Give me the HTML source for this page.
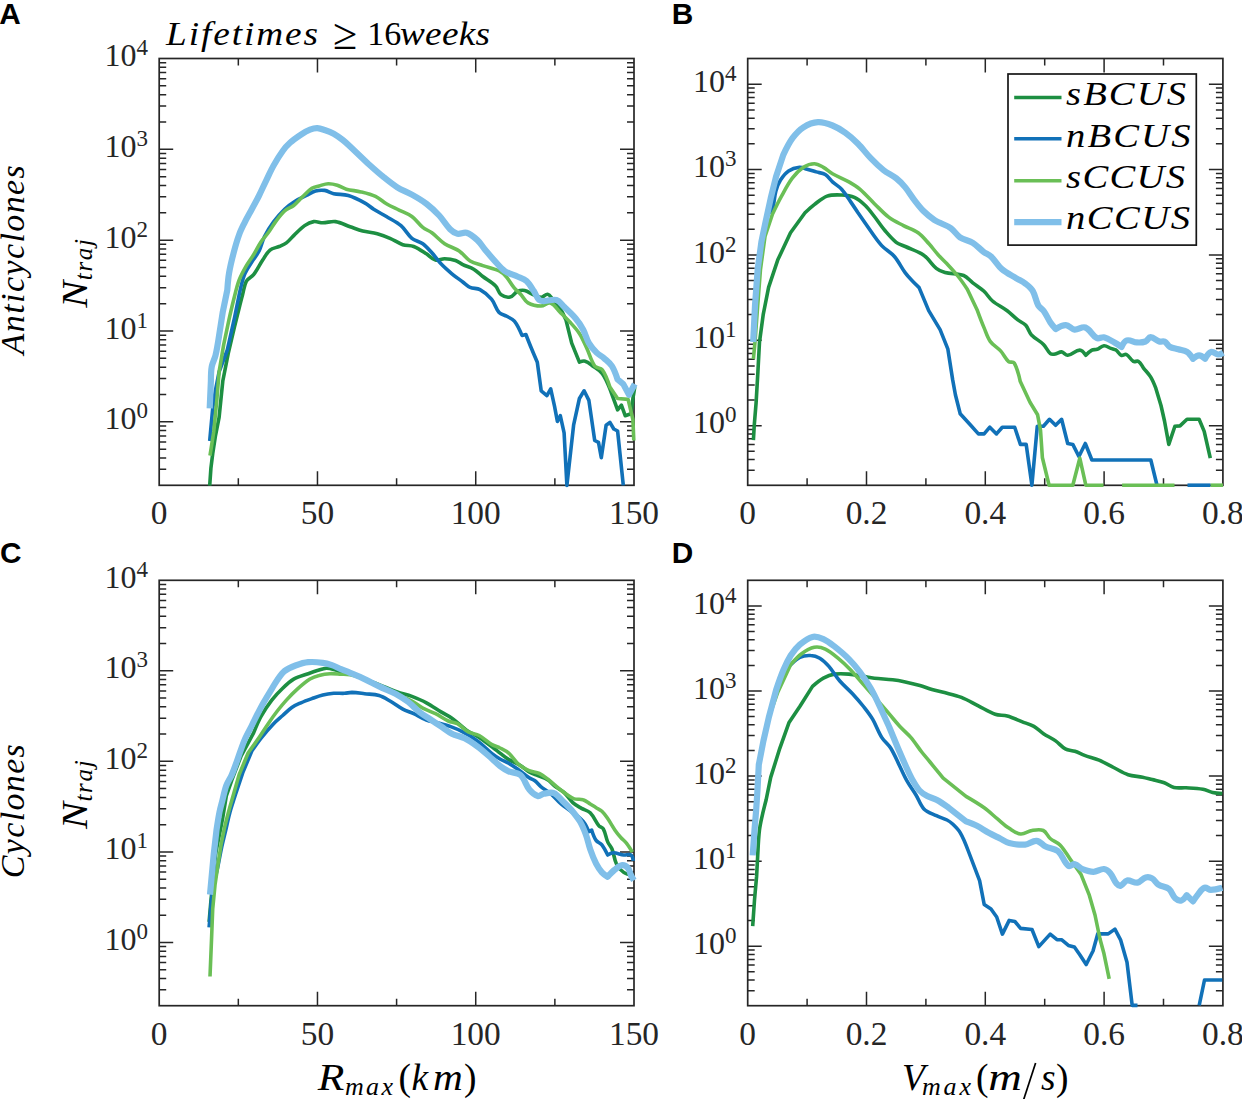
<!DOCTYPE html><html><head><meta charset="utf-8"><style>
html,body{margin:0;padding:0;background:#fff;width:1242px;height:1099px;overflow:hidden}
svg{display:block}
.tk{font-family:"Liberation Serif",serif;font-size:33.4px;fill:#262626}
.ty{font-family:"Liberation Serif",serif;font-size:32px;fill:#262626}
.ts{font-family:"Liberation Serif",serif;font-size:23px;fill:#262626}
.it{font-family:"Liberation Serif",serif;font-style:italic;fill:#000}
.rm{font-family:"Liberation Serif",serif;fill:#000}
.pl{font-family:"Liberation Sans",sans-serif;font-weight:bold;font-size:29.8px;fill:#000}
</style></head><body>
<svg width="1242" height="1099" viewBox="0 0 1242 1099">
<rect width="1242" height="1099" fill="#fff"/>
<path d="M317.47 485.30L317.47 471.30M317.47 58.50L317.47 72.50M475.73 485.30L475.73 471.30M475.73 58.50L475.73 72.50M238.33 485.30L238.33 478.30M238.33 58.50L238.33 65.50M396.60 485.30L396.60 478.30M396.60 58.50L396.60 65.50M554.87 485.30L554.87 478.30M554.87 58.50L554.87 65.50M159.20 469.31L166.20 469.31M634.00 469.31L627.00 469.31M159.20 457.96L166.20 457.96M634.00 457.96L627.00 457.96M159.20 449.16L166.20 449.16M634.00 449.16L627.00 449.16M159.20 441.96L166.20 441.96M634.00 441.96L627.00 441.96M159.20 435.88L166.20 435.88M634.00 435.88L627.00 435.88M159.20 430.62L166.20 430.62M634.00 430.62L627.00 430.62M159.20 425.97L166.20 425.97M634.00 425.97L627.00 425.97M159.20 421.81L173.20 421.81M634.00 421.81L620.00 421.81M159.20 394.47L166.20 394.47M634.00 394.47L627.00 394.47M159.20 378.48L166.20 378.48M634.00 378.48L627.00 378.48M159.20 367.13L166.20 367.13M634.00 367.13L627.00 367.13M159.20 358.33L166.20 358.33M634.00 358.33L627.00 358.33M159.20 351.14L166.20 351.14M634.00 351.14L627.00 351.14M159.20 345.05L166.20 345.05M634.00 345.05L627.00 345.05M159.20 339.79L166.20 339.79M634.00 339.79L627.00 339.79M159.20 335.14L166.20 335.14M634.00 335.14L627.00 335.14M159.20 330.99L173.20 330.99M634.00 330.99L620.00 330.99M159.20 303.64L166.20 303.64M634.00 303.64L627.00 303.64M159.20 287.65L166.20 287.65M634.00 287.65L627.00 287.65M159.20 276.30L166.20 276.30M634.00 276.30L627.00 276.30M159.20 267.50L166.20 267.50M634.00 267.50L627.00 267.50M159.20 260.31L166.20 260.31M634.00 260.31L627.00 260.31M159.20 254.23L166.20 254.23M634.00 254.23L627.00 254.23M159.20 248.96L166.20 248.96M634.00 248.96L627.00 248.96M159.20 244.31L166.20 244.31M634.00 244.31L627.00 244.31M159.20 240.16L173.20 240.16M634.00 240.16L620.00 240.16M159.20 212.81L166.20 212.81M634.00 212.81L627.00 212.81M159.20 196.82L166.20 196.82M634.00 196.82L627.00 196.82M159.20 185.47L166.20 185.47M634.00 185.47L627.00 185.47M159.20 176.67L166.20 176.67M634.00 176.67L627.00 176.67M159.20 169.48L166.20 169.48M634.00 169.48L627.00 169.48M159.20 163.40L166.20 163.40M634.00 163.40L627.00 163.40M159.20 158.13L166.20 158.13M634.00 158.13L627.00 158.13M159.20 153.48L166.20 153.48M634.00 153.48L627.00 153.48M159.20 149.33L173.20 149.33M634.00 149.33L620.00 149.33M159.20 121.99L166.20 121.99M634.00 121.99L627.00 121.99M159.20 105.99L166.20 105.99M634.00 105.99L627.00 105.99M159.20 94.64L166.20 94.64M634.00 94.64L627.00 94.64M159.20 85.84L166.20 85.84M634.00 85.84L627.00 85.84M159.20 78.65L166.20 78.65M634.00 78.65L627.00 78.65M159.20 72.57L166.20 72.57M634.00 72.57L627.00 72.57M159.20 67.30L166.20 67.30M634.00 67.30L627.00 67.30M159.20 62.66L166.20 62.66M634.00 62.66L627.00 62.66" stroke="#262626" stroke-width="1.50" fill="none"/>
<rect x="159.20" y="58.50" width="474.80" height="426.80" fill="none" stroke="#262626" stroke-width="1.7"/>
<text x="159.20" y="523.90" text-anchor="middle" class="tk">0</text>
<text x="317.47" y="523.90" text-anchor="middle" class="tk">50</text>
<text x="475.73" y="523.90" text-anchor="middle" class="tk">100</text>
<text x="634.00" y="523.90" text-anchor="middle" class="tk">150</text>
<text x="104.50" y="429.41" class="ty">10</text>
<text x="136.50" y="418.41" class="ts">0</text>
<text x="104.50" y="338.59" class="ty">10</text>
<text x="136.50" y="327.59" class="ts">1</text>
<text x="104.50" y="247.76" class="ty">10</text>
<text x="136.50" y="236.76" class="ts">2</text>
<text x="104.50" y="156.93" class="ty">10</text>
<text x="136.50" y="145.93" class="ts">3</text>
<text x="104.50" y="66.10" class="ty">10</text>
<text x="136.50" y="55.10" class="ts">4</text>
<path d="M866.50 485.30L866.50 471.30M866.50 58.50L866.50 72.50M985.30 485.30L985.30 471.30M985.30 58.50L985.30 72.50M1104.10 485.30L1104.10 471.30M1104.10 58.50L1104.10 72.50M807.10 485.30L807.10 478.30M807.10 58.50L807.10 65.50M925.90 485.30L925.90 478.30M925.90 58.50L925.90 65.50M1044.70 485.30L1044.70 478.30M1044.70 58.50L1044.70 65.50M1163.50 485.30L1163.50 478.30M1163.50 58.50L1163.50 65.50M747.70 470.27L754.70 470.27M1222.90 470.27L1215.90 470.27M747.70 459.60L754.70 459.60M1222.90 459.60L1215.90 459.60M747.70 451.33L754.70 451.33M1222.90 451.33L1215.90 451.33M747.70 444.57L754.70 444.57M1222.90 444.57L1215.90 444.57M747.70 438.86L754.70 438.86M1222.90 438.86L1215.90 438.86M747.70 433.91L754.70 433.91M1222.90 433.91L1215.90 433.91M747.70 429.54L754.70 429.54M1222.90 429.54L1215.90 429.54M747.70 425.64L761.70 425.64M1222.90 425.64L1208.90 425.64M747.70 399.94L754.70 399.94M1222.90 399.94L1215.90 399.94M747.70 384.91L754.70 384.91M1222.90 384.91L1215.90 384.91M747.70 374.24L754.70 374.24M1222.90 374.24L1215.90 374.24M747.70 365.97L754.70 365.97M1222.90 365.97L1215.90 365.97M747.70 359.21L754.70 359.21M1222.90 359.21L1215.90 359.21M747.70 353.50L754.70 353.50M1222.90 353.50L1215.90 353.50M747.70 348.55L754.70 348.55M1222.90 348.55L1215.90 348.55M747.70 344.18L754.70 344.18M1222.90 344.18L1215.90 344.18M747.70 340.28L761.70 340.28M1222.90 340.28L1208.90 340.28M747.70 314.58L754.70 314.58M1222.90 314.58L1215.90 314.58M747.70 299.55L754.70 299.55M1222.90 299.55L1215.90 299.55M747.70 288.88L754.70 288.88M1222.90 288.88L1215.90 288.88M747.70 280.61L754.70 280.61M1222.90 280.61L1215.90 280.61M747.70 273.85L754.70 273.85M1222.90 273.85L1215.90 273.85M747.70 268.14L754.70 268.14M1222.90 268.14L1215.90 268.14M747.70 263.19L754.70 263.19M1222.90 263.19L1215.90 263.19M747.70 258.82L754.70 258.82M1222.90 258.82L1215.90 258.82M747.70 254.92L761.70 254.92M1222.90 254.92L1208.90 254.92M747.70 229.22L754.70 229.22M1222.90 229.22L1215.90 229.22M747.70 214.19L754.70 214.19M1222.90 214.19L1215.90 214.19M747.70 203.52L754.70 203.52M1222.90 203.52L1215.90 203.52M747.70 195.25L754.70 195.25M1222.90 195.25L1215.90 195.25M747.70 188.49L754.70 188.49M1222.90 188.49L1215.90 188.49M747.70 182.78L754.70 182.78M1222.90 182.78L1215.90 182.78M747.70 177.83L754.70 177.83M1222.90 177.83L1215.90 177.83M747.70 173.46L754.70 173.46M1222.90 173.46L1215.90 173.46M747.70 169.56L761.70 169.56M1222.90 169.56L1208.90 169.56M747.70 143.86L754.70 143.86M1222.90 143.86L1215.90 143.86M747.70 128.83L754.70 128.83M1222.90 128.83L1215.90 128.83M747.70 118.16L754.70 118.16M1222.90 118.16L1215.90 118.16M747.70 109.89L754.70 109.89M1222.90 109.89L1215.90 109.89M747.70 103.13L754.70 103.13M1222.90 103.13L1215.90 103.13M747.70 97.42L754.70 97.42M1222.90 97.42L1215.90 97.42M747.70 92.47L754.70 92.47M1222.90 92.47L1215.90 92.47M747.70 88.10L754.70 88.10M1222.90 88.10L1215.90 88.10M747.70 84.20L761.70 84.20M1222.90 84.20L1208.90 84.20" stroke="#262626" stroke-width="1.50" fill="none"/>
<rect x="747.70" y="58.50" width="475.20" height="426.80" fill="none" stroke="#262626" stroke-width="1.7"/>
<text x="747.70" y="523.90" text-anchor="middle" class="tk">0</text>
<text x="866.50" y="523.90" text-anchor="middle" class="tk">0.2</text>
<text x="985.30" y="523.90" text-anchor="middle" class="tk">0.4</text>
<text x="1104.10" y="523.90" text-anchor="middle" class="tk">0.6</text>
<text x="1222.90" y="523.90" text-anchor="middle" class="tk">0.8</text>
<text x="693.00" y="433.24" class="ty">10</text>
<text x="725.00" y="422.24" class="ts">0</text>
<text x="693.00" y="347.88" class="ty">10</text>
<text x="725.00" y="336.88" class="ts">1</text>
<text x="693.00" y="262.52" class="ty">10</text>
<text x="725.00" y="251.52" class="ts">2</text>
<text x="693.00" y="177.16" class="ty">10</text>
<text x="725.00" y="166.16" class="ts">3</text>
<text x="693.00" y="91.80" class="ty">10</text>
<text x="725.00" y="80.80" class="ts">4</text>
<path d="M317.47 1005.70L317.47 991.70M317.47 580.30L317.47 594.30M475.73 1005.70L475.73 991.70M475.73 580.30L475.73 594.30M238.33 1005.70L238.33 998.70M238.33 580.30L238.33 587.30M396.60 1005.70L396.60 998.70M396.60 580.30L396.60 587.30M554.87 1005.70L554.87 998.70M554.87 580.30L554.87 587.30M159.20 989.76L166.20 989.76M634.00 989.76L627.00 989.76M159.20 978.45L166.20 978.45M634.00 978.45L627.00 978.45M159.20 969.67L166.20 969.67M634.00 969.67L627.00 969.67M159.20 962.51L166.20 962.51M634.00 962.51L627.00 962.51M159.20 956.45L166.20 956.45M634.00 956.45L627.00 956.45M159.20 951.20L166.20 951.20M634.00 951.20L627.00 951.20M159.20 946.56L166.20 946.56M634.00 946.56L627.00 946.56M159.20 942.42L173.20 942.42M634.00 942.42L620.00 942.42M159.20 915.17L166.20 915.17M634.00 915.17L627.00 915.17M159.20 899.23L166.20 899.23M634.00 899.23L627.00 899.23M159.20 887.92L166.20 887.92M634.00 887.92L627.00 887.92M159.20 879.14L166.20 879.14M634.00 879.14L627.00 879.14M159.20 871.98L166.20 871.98M634.00 871.98L627.00 871.98M159.20 865.91L166.20 865.91M634.00 865.91L627.00 865.91M159.20 860.66L166.20 860.66M634.00 860.66L627.00 860.66M159.20 856.03L166.20 856.03M634.00 856.03L627.00 856.03M159.20 851.89L173.20 851.89M634.00 851.89L620.00 851.89M159.20 824.64L166.20 824.64M634.00 824.64L627.00 824.64M159.20 808.70L166.20 808.70M634.00 808.70L627.00 808.70M159.20 797.39L166.20 797.39M634.00 797.39L627.00 797.39M159.20 788.61L166.20 788.61M634.00 788.61L627.00 788.61M159.20 781.45L166.20 781.45M634.00 781.45L627.00 781.45M159.20 775.38L166.20 775.38M634.00 775.38L627.00 775.38M159.20 770.13L166.20 770.13M634.00 770.13L627.00 770.13M159.20 765.50L166.20 765.50M634.00 765.50L627.00 765.50M159.20 761.36L173.20 761.36M634.00 761.36L620.00 761.36M159.20 734.11L166.20 734.11M634.00 734.11L627.00 734.11M159.20 718.17L166.20 718.17M634.00 718.17L627.00 718.17M159.20 706.86L166.20 706.86M634.00 706.86L627.00 706.86M159.20 698.08L166.20 698.08M634.00 698.08L627.00 698.08M159.20 690.91L166.20 690.91M634.00 690.91L627.00 690.91M159.20 684.85L166.20 684.85M634.00 684.85L627.00 684.85M159.20 679.60L166.20 679.60M634.00 679.60L627.00 679.60M159.20 674.97L166.20 674.97M634.00 674.97L627.00 674.97M159.20 670.83L173.20 670.83M634.00 670.83L620.00 670.83M159.20 643.58L166.20 643.58M634.00 643.58L627.00 643.58M159.20 627.64L166.20 627.64M634.00 627.64L627.00 627.64M159.20 616.33L166.20 616.33M634.00 616.33L627.00 616.33M159.20 607.55L166.20 607.55M634.00 607.55L627.00 607.55M159.20 600.38L166.20 600.38M634.00 600.38L627.00 600.38M159.20 594.32L166.20 594.32M634.00 594.32L627.00 594.32M159.20 589.07L166.20 589.07M634.00 589.07L627.00 589.07M159.20 584.44L166.20 584.44M634.00 584.44L627.00 584.44" stroke="#262626" stroke-width="1.50" fill="none"/>
<rect x="159.20" y="580.30" width="474.80" height="425.40" fill="none" stroke="#262626" stroke-width="1.7"/>
<text x="159.20" y="1045.10" text-anchor="middle" class="tk">0</text>
<text x="317.47" y="1045.10" text-anchor="middle" class="tk">50</text>
<text x="475.73" y="1045.10" text-anchor="middle" class="tk">100</text>
<text x="634.00" y="1045.10" text-anchor="middle" class="tk">150</text>
<text x="104.50" y="950.02" class="ty">10</text>
<text x="136.50" y="939.02" class="ts">0</text>
<text x="104.50" y="859.49" class="ty">10</text>
<text x="136.50" y="848.49" class="ts">1</text>
<text x="104.50" y="768.96" class="ty">10</text>
<text x="136.50" y="757.96" class="ts">2</text>
<text x="104.50" y="678.43" class="ty">10</text>
<text x="136.50" y="667.43" class="ts">3</text>
<text x="104.50" y="587.90" class="ty">10</text>
<text x="136.50" y="576.90" class="ts">4</text>
<path d="M866.50 1005.70L866.50 991.70M866.50 580.30L866.50 594.30M985.30 1005.70L985.30 991.70M985.30 580.30L985.30 594.30M1104.10 1005.70L1104.10 991.70M1104.10 580.30L1104.10 594.30M807.10 1005.70L807.10 998.70M807.10 580.30L807.10 587.30M925.90 1005.70L925.90 998.70M925.90 580.30L925.90 587.30M1044.70 1005.70L1044.70 998.70M1044.70 580.30L1044.70 587.30M1163.50 1005.70L1163.50 998.70M1163.50 580.30L1163.50 587.30M747.70 990.72L754.70 990.72M1222.90 990.72L1215.90 990.72M747.70 980.09L754.70 980.09M1222.90 980.09L1215.90 980.09M747.70 971.84L754.70 971.84M1222.90 971.84L1215.90 971.84M747.70 965.11L754.70 965.11M1222.90 965.11L1215.90 965.11M747.70 959.41L754.70 959.41M1222.90 959.41L1215.90 959.41M747.70 954.48L754.70 954.48M1222.90 954.48L1215.90 954.48M747.70 950.12L754.70 950.12M1222.90 950.12L1215.90 950.12M747.70 946.23L761.70 946.23M1222.90 946.23L1208.90 946.23M747.70 920.62L754.70 920.62M1222.90 920.62L1215.90 920.62M747.70 905.64L754.70 905.64M1222.90 905.64L1215.90 905.64M747.70 895.01L754.70 895.01M1222.90 895.01L1215.90 895.01M747.70 886.76L754.70 886.76M1222.90 886.76L1215.90 886.76M747.70 880.03L754.70 880.03M1222.90 880.03L1215.90 880.03M747.70 874.33L754.70 874.33M1222.90 874.33L1215.90 874.33M747.70 869.40L754.70 869.40M1222.90 869.40L1215.90 869.40M747.70 865.04L754.70 865.04M1222.90 865.04L1215.90 865.04M747.70 861.15L761.70 861.15M1222.90 861.15L1208.90 861.15M747.70 835.54L754.70 835.54M1222.90 835.54L1215.90 835.54M747.70 820.56L754.70 820.56M1222.90 820.56L1215.90 820.56M747.70 809.93L754.70 809.93M1222.90 809.93L1215.90 809.93M747.70 801.68L754.70 801.68M1222.90 801.68L1215.90 801.68M747.70 794.95L754.70 794.95M1222.90 794.95L1215.90 794.95M747.70 789.25L754.70 789.25M1222.90 789.25L1215.90 789.25M747.70 784.32L754.70 784.32M1222.90 784.32L1215.90 784.32M747.70 779.96L754.70 779.96M1222.90 779.96L1215.90 779.96M747.70 776.07L761.70 776.07M1222.90 776.07L1208.90 776.07M747.70 750.46L754.70 750.46M1222.90 750.46L1215.90 750.46M747.70 735.48L754.70 735.48M1222.90 735.48L1215.90 735.48M747.70 724.85L754.70 724.85M1222.90 724.85L1215.90 724.85M747.70 716.60L754.70 716.60M1222.90 716.60L1215.90 716.60M747.70 709.87L754.70 709.87M1222.90 709.87L1215.90 709.87M747.70 704.17L754.70 704.17M1222.90 704.17L1215.90 704.17M747.70 699.24L754.70 699.24M1222.90 699.24L1215.90 699.24M747.70 694.88L754.70 694.88M1222.90 694.88L1215.90 694.88M747.70 690.99L761.70 690.99M1222.90 690.99L1208.90 690.99M747.70 665.38L754.70 665.38M1222.90 665.38L1215.90 665.38M747.70 650.40L754.70 650.40M1222.90 650.40L1215.90 650.40M747.70 639.77L754.70 639.77M1222.90 639.77L1215.90 639.77M747.70 631.52L754.70 631.52M1222.90 631.52L1215.90 631.52M747.70 624.79L754.70 624.79M1222.90 624.79L1215.90 624.79M747.70 619.09L754.70 619.09M1222.90 619.09L1215.90 619.09M747.70 614.16L754.70 614.16M1222.90 614.16L1215.90 614.16M747.70 609.80L754.70 609.80M1222.90 609.80L1215.90 609.80M747.70 605.91L761.70 605.91M1222.90 605.91L1208.90 605.91" stroke="#262626" stroke-width="1.50" fill="none"/>
<rect x="747.70" y="580.30" width="475.20" height="425.40" fill="none" stroke="#262626" stroke-width="1.7"/>
<text x="747.70" y="1045.10" text-anchor="middle" class="tk">0</text>
<text x="866.50" y="1045.10" text-anchor="middle" class="tk">0.2</text>
<text x="985.30" y="1045.10" text-anchor="middle" class="tk">0.4</text>
<text x="1104.10" y="1045.10" text-anchor="middle" class="tk">0.6</text>
<text x="1222.90" y="1045.10" text-anchor="middle" class="tk">0.8</text>
<text x="693.00" y="953.83" class="ty">10</text>
<text x="725.00" y="942.83" class="ts">0</text>
<text x="693.00" y="868.75" class="ty">10</text>
<text x="725.00" y="857.75" class="ts">1</text>
<text x="693.00" y="783.67" class="ty">10</text>
<text x="725.00" y="772.67" class="ts">2</text>
<text x="693.00" y="698.59" class="ty">10</text>
<text x="725.00" y="687.59" class="ts">3</text>
<text x="693.00" y="613.51" class="ty">10</text>
<text x="725.00" y="602.51" class="ts">4</text>
<path d="M209.7 485.6C209.7 485.6 210.9 468.3 210.9 468.3C210.9 468.3 212.7 453.8 212.7 453.8C212.7 453.8 215.5 435.6 215.5 435.6C215.5 435.6 219.1 417.4 219.1 417.4C219.1 417.4 222.8 381.0 222.8 381.0C222.8 381.0 228.2 353.7 228.2 353.7C228.2 353.7 234.6 326.4 234.6 326.4C234.6 326.4 237.6 314.3 239.1 308.2C240.2 303.8 241.3 299.4 242.5 295.0C243.8 290.4 244.1 285.3 246.4 281.1C247.9 278.3 251.6 277.2 253.6 274.7C257.1 270.2 259.5 264.9 262.7 260.1C265.0 256.7 266.8 252.7 270.0 250.1C272.5 248.0 276.1 247.8 279.1 246.5C281.6 245.4 284.2 244.5 286.4 242.9C289.2 240.8 291.2 238.0 293.7 235.6C297.3 232.2 300.6 228.4 304.6 225.6C307.3 223.7 310.4 222.1 313.7 221.6C316.7 221.1 319.7 222.8 322.8 222.8C327.1 222.8 331.3 221.0 335.5 221.6C340.6 222.3 345.2 225.1 350.1 226.8C354.3 228.2 358.4 229.9 362.7 231.0C367.5 232.2 372.5 232.4 377.3 233.7C381.6 234.9 385.9 236.5 390.0 238.3C394.4 240.2 398.3 243.1 402.8 244.7C406.3 245.9 410.3 245.2 413.7 246.5C418.3 248.3 422.3 251.2 426.4 253.8C429.5 255.8 431.9 259.1 435.5 260.1C438.5 260.9 441.5 258.6 444.6 258.7C448.3 258.8 452.0 259.3 455.5 260.5C458.2 261.4 460.3 263.5 462.8 264.7C466.3 266.4 470.3 267.2 473.7 269.2C477.0 271.2 479.7 274.1 482.8 276.5C487.0 279.7 491.8 282.2 495.6 286.0C498.0 288.4 498.3 292.6 501.0 294.7C503.5 296.6 507.0 297.6 510.1 297.0C513.1 296.4 514.6 292.7 517.4 291.5C519.6 290.5 522.3 290.0 524.7 290.5C527.7 291.1 530.2 293.3 533.0 294.5C535.6 295.6 538.2 297.3 541.1 297.3C543.5 297.3 545.4 293.9 547.8 294.3C550.0 294.6 551.1 297.4 552.6 299.1C555.3 302.2 558.1 305.2 560.3 308.7C562.6 312.3 566.0 320.1 566.0 320.1C566.0 320.1 571.7 343.1 571.7 343.1C571.7 343.1 579.4 362.2 579.4 362.2C579.4 362.2 583.2 360.7 585.1 361.2C588.0 362.0 590.3 364.2 592.7 366.0C596.0 368.4 599.8 370.3 602.3 373.6C605.7 378.2 609.9 388.9 609.9 388.9C609.9 388.9 617.6 409.9 617.6 409.9C617.6 409.9 621.4 405.2 621.4 405.2C621.4 405.2 625.2 415.7 625.2 415.7C625.2 415.7 631.0 413.8 631.0 413.8C631.0 413.8 632.9 398.5 632.9 398.5C632.9 398.5 634.8 387.0 634.8 387.0" stroke="#1d8f42" stroke-width="3.6" fill="none" stroke-linejoin="round" stroke-linecap="butt"/>
<path d="M209.7 441.0C209.7 441.0 212.7 408.3 212.7 408.3C212.7 408.3 215.5 390.1 215.5 390.1C215.5 390.1 219.1 371.9 219.1 371.9C219.1 371.9 227.3 350.0 227.3 350.0C227.3 350.0 234.6 317.3 234.6 317.3C234.6 317.3 239.1 295.0 239.1 295.0C239.1 295.0 242.0 281.2 244.5 274.7C246.3 270.1 249.2 266.2 251.8 262.0C254.1 258.3 257.1 254.9 259.1 251.0C261.4 246.4 262.2 241.1 264.5 236.5C267.1 231.4 270.2 226.5 273.6 221.9C276.9 217.4 280.5 213.1 284.6 209.2C287.9 206.1 291.7 203.4 295.5 201.0C298.9 198.8 302.8 197.3 306.4 195.5C309.4 194.0 312.2 191.9 315.5 191.0C318.4 190.2 321.6 190.0 324.6 190.4C327.8 190.9 330.5 193.0 333.7 193.7C338.5 194.7 343.6 194.1 348.3 195.5C354.0 197.2 359.4 200.0 364.6 202.8C367.9 204.6 370.6 207.2 373.7 209.2C377.8 211.8 382.2 214.0 386.4 216.5C391.3 219.5 396.6 221.9 401.0 225.6C405.2 229.2 407.6 234.7 411.9 238.3C415.0 240.9 419.5 241.3 422.8 243.7C426.3 246.2 429.0 249.6 431.9 252.8C435.1 256.3 437.7 260.4 441.0 263.8C444.4 267.4 448.1 270.6 451.9 273.8C455.4 276.7 459.2 279.3 462.8 282.0C465.2 283.8 467.3 286.2 470.1 287.4C473.2 288.8 477.0 288.0 480.0 289.6C484.4 292.0 488.3 295.3 491.5 299.1C494.8 303.0 495.7 308.7 499.1 312.5C501.0 314.6 504.3 314.9 506.8 316.3C509.4 317.8 512.5 318.8 514.4 321.1C517.8 325.3 522.0 335.4 522.0 335.4C522.0 335.4 525.9 334.5 525.9 334.5C525.9 334.5 529.6 344.1 531.6 348.8C533.4 353.3 537.3 362.2 537.3 362.2C537.3 362.2 541.2 390.8 541.2 390.8C541.2 390.8 546.9 395.6 546.9 395.6C546.9 395.6 550.7 388.9 550.7 388.9C550.7 388.9 554.5 406.1 554.5 406.1C554.5 406.1 557.4 421.4 557.4 421.4C557.4 421.4 560.3 415.7 560.3 415.7C560.3 415.7 564.1 432.9 564.1 432.9C564.1 432.9 566.9 485.4 566.9 485.4C566.9 485.4 573.6 425.2 573.6 425.2C573.6 425.2 579.4 398.5 579.4 398.5C579.4 398.5 584.1 390.8 584.1 390.8C584.1 390.8 588.9 400.4 588.9 400.4C588.9 400.4 594.7 440.5 594.7 440.5C594.7 440.5 598.5 442.4 598.5 442.4C598.5 442.4 601.3 457.7 601.3 457.7C601.3 457.7 606.1 425.2 606.1 425.2C606.1 425.2 609.9 422.4 609.9 422.4C609.9 422.4 613.8 429.0 613.8 429.0C613.8 429.0 617.6 431.0 617.6 431.0C617.6 431.0 623.3 485.4 623.3 485.4" stroke="#1171b8" stroke-width="3.6" fill="none" stroke-linejoin="round" stroke-linecap="butt"/>
<path d="M210.0 455.6C210.0 455.6 213.7 432.0 213.7 432.0C213.7 432.0 216.9 399.2 216.9 399.2C216.9 399.2 219.1 371.9 219.1 371.9C219.1 371.9 223.7 344.6 223.7 344.6C223.7 344.6 229.1 319.1 229.1 319.1C229.1 319.1 232.0 306.3 233.6 300.0C235.3 293.4 236.7 286.6 239.1 280.2C241.0 275.1 243.7 270.3 246.4 265.6C248.6 261.8 251.3 258.4 253.6 254.7C256.2 250.5 258.2 246.0 260.9 241.9C263.1 238.7 265.9 235.9 268.2 232.8C270.8 229.3 272.9 225.4 275.5 221.9C278.3 218.1 281.1 214.2 284.6 211.0C287.2 208.6 290.9 207.7 293.7 205.5C297.0 202.8 299.7 199.4 302.8 196.5C305.8 193.7 308.5 190.5 311.9 188.3C314.0 186.9 316.7 186.6 319.1 185.9C322.1 185.1 325.1 183.8 328.2 183.7C331.3 183.6 334.4 184.3 337.3 185.2C340.5 186.2 343.2 188.3 346.4 189.2C351.1 190.5 356.1 190.7 360.9 191.9C365.8 193.1 370.9 194.3 375.5 196.4C379.5 198.2 382.6 201.5 386.4 203.7C390.5 206.1 394.9 208.0 399.1 210.1C403.4 212.2 408.0 213.7 411.9 216.5C416.1 219.5 418.8 224.2 422.8 227.4C425.5 229.6 429.1 230.7 431.9 232.8C436.4 236.1 440.0 240.6 444.6 243.7C449.1 246.7 454.7 247.9 459.2 251.0C463.3 253.8 465.9 258.4 470.1 261.0C473.9 263.4 478.5 264.1 482.8 265.6C488.2 267.5 494.0 268.5 499.2 271.0C502.0 272.4 504.4 274.6 506.5 277.0C509.3 280.2 511.1 284.1 513.8 287.4C516.0 290.1 518.8 292.2 521.1 294.7C523.5 297.3 524.9 301.1 528.0 302.9C531.9 305.1 536.6 306.0 541.1 306.0C544.4 306.0 547.4 301.9 550.5 303.0C554.8 304.5 557.1 309.3 560.3 312.5C563.5 315.6 566.8 318.7 569.8 322.0C573.2 325.7 576.7 329.3 579.4 333.5C582.5 338.3 584.6 343.6 587.0 348.8C589.7 354.5 591.0 360.9 594.7 366.0C596.4 368.3 600.6 367.5 602.3 369.8C606.0 374.9 609.9 387.0 609.9 387.0C609.9 387.0 617.6 398.5 617.6 398.5C617.6 398.5 628.1 399.4 628.1 399.4C628.1 399.4 632.9 419.5 632.9 419.5C632.9 419.5 633.8 440.5 633.8 440.5" stroke="#6abf56" stroke-width="3.6" fill="none" stroke-linejoin="round" stroke-linecap="butt"/>
<path d="M209.7 408.3C209.7 408.3 210.9 381.0 210.9 381.0C210.9 381.0 210.9 371.2 211.8 366.4C212.5 362.6 214.6 359.2 215.5 355.5C217.1 348.9 219.1 335.5 219.1 335.5C219.1 335.5 222.8 311.8 222.8 311.8C222.8 311.8 227.3 290.0 227.3 290.0C227.3 290.0 228.1 278.6 229.1 272.9C230.2 266.2 231.9 259.5 233.6 252.9C235.2 246.8 236.9 240.7 239.1 234.7C240.6 230.6 242.6 226.7 244.5 222.8C246.8 218.2 249.4 213.7 251.8 209.2C254.2 204.6 256.8 200.1 259.1 195.5C261.6 190.4 263.9 185.2 266.4 180.1C268.8 175.2 270.9 170.2 273.6 165.5C276.4 160.5 279.4 155.6 282.7 151.0C284.8 148.0 287.3 145.2 290.0 142.8C293.4 139.7 297.2 137.1 301.0 134.6C303.9 132.7 306.8 130.9 310.0 129.7C312.3 128.8 314.8 128.1 317.3 128.2C319.8 128.3 322.2 129.2 324.6 130.0C327.7 131.0 330.8 132.1 333.7 133.7C336.9 135.5 339.9 137.7 342.8 140.0C345.4 142.0 350.1 146.5 350.1 146.5C350.1 146.5 368.2 163.7 368.2 163.7C368.2 163.7 377.8 172.3 382.8 176.4C387.5 180.2 392.2 184.1 397.3 187.3C401.9 190.2 407.2 191.9 411.9 194.6C416.9 197.4 421.9 200.2 426.4 203.7C431.0 207.2 435.2 211.2 439.2 215.5C443.2 219.8 446.0 225.1 450.1 229.2C452.1 231.2 454.6 233.1 457.4 233.7C460.4 234.4 463.6 231.9 466.5 232.8C470.7 234.1 474.2 237.2 477.4 240.1C480.3 242.7 482.2 246.2 484.7 249.2C488.3 253.5 491.8 257.8 495.6 261.9C498.5 265.1 501.1 268.6 504.7 271.0C508.5 273.6 513.2 274.6 517.4 276.5C520.5 277.9 524.0 278.7 526.5 281.0C529.6 283.8 531.5 287.6 533.8 291.1C535.8 294.0 536.7 297.8 539.3 300.1C540.7 301.4 543.1 301.0 545.0 301.0C548.8 301.0 552.7 298.9 556.4 300.0C559.7 301.0 561.6 304.4 564.1 306.8C568.0 310.5 572.1 314.1 575.5 318.2C578.5 321.7 581.0 325.6 583.2 329.7C585.5 334.0 586.4 338.9 588.9 343.1C591.0 346.6 593.7 349.7 596.6 352.6C598.8 354.8 601.8 356.2 604.2 358.3C606.9 360.7 610.0 362.9 611.9 366.0C614.5 370.1 617.6 379.4 617.6 379.4C617.6 379.4 623.3 384.1 623.3 384.1C623.3 384.1 629.0 394.7 629.0 394.7C629.0 394.7 634.8 384.1 634.8 384.1" stroke="#80bfe9" stroke-width="6.2" fill="none" stroke-linejoin="round" stroke-linecap="butt"/>
<path d="M753.4 440.1C753.4 440.1 754.3 424.7 754.3 424.7C754.3 424.7 756.1 402.8 756.1 402.8C756.1 402.8 757.9 371.9 757.9 371.9C757.9 371.9 759.5 342.0 759.5 342.0C759.5 342.0 763.2 314.7 763.2 314.7C763.2 314.7 768.6 287.4 768.6 287.4C768.6 287.4 777.7 260.1 777.7 260.1C777.7 260.1 790.5 232.8 790.5 232.8C790.5 232.8 805.0 212.8 805.0 212.8C805.0 212.8 811.0 207.1 814.3 204.6C818.4 201.5 822.3 197.8 827.1 196.1C831.7 194.5 836.8 194.8 841.6 195.0C845.9 195.2 850.4 195.6 854.4 197.4C858.5 199.2 862.0 202.4 865.3 205.5C868.7 208.8 871.5 212.8 874.4 216.5C878.1 221.3 881.4 226.4 885.3 231.0C888.7 235.0 892.1 239.1 896.2 242.3C898.8 244.3 902.3 245.1 905.3 246.5C910.8 249.0 916.4 251.0 921.7 253.8C923.8 254.9 925.5 256.6 927.2 258.3C930.4 261.5 932.8 265.5 936.3 268.3C938.8 270.3 941.9 271.7 945.0 272.5C951.1 274.1 957.8 273.3 963.7 275.5C967.3 276.9 969.7 280.4 972.8 282.8C976.5 285.7 980.6 288.1 984.0 291.3C987.2 294.2 989.2 298.2 992.5 301.0C997.0 304.8 1002.5 307.3 1007.2 310.8C1010.8 313.5 1013.9 316.9 1017.5 319.7C1020.1 321.8 1023.5 322.8 1025.8 325.3C1028.3 328.1 1029.0 332.2 1031.5 335.0C1035.0 338.7 1039.9 340.8 1043.5 344.4C1046.2 347.1 1047.4 351.2 1050.4 353.6C1051.8 354.7 1053.9 354.2 1055.6 353.9C1057.7 353.6 1059.5 351.7 1061.6 351.9C1063.9 352.2 1065.4 355.5 1067.7 355.3C1072.1 354.9 1075.4 350.1 1079.8 350.1C1082.4 350.1 1085.8 355.3 1085.8 355.3C1085.8 355.3 1089.5 351.4 1091.9 350.1C1093.4 349.3 1095.4 349.9 1097.1 349.3C1099.5 348.4 1101.4 346.0 1104.0 345.8C1106.5 345.6 1108.6 347.6 1110.9 348.4C1112.6 349.0 1114.6 349.1 1116.1 350.1C1118.1 351.5 1119.0 354.3 1121.3 355.3C1122.9 356.0 1124.9 353.7 1126.4 354.5C1129.3 356.0 1130.6 359.8 1133.4 361.4C1134.9 362.2 1137.1 360.5 1138.5 361.4C1140.9 363.0 1141.9 366.0 1143.7 368.3C1146.0 371.2 1148.7 373.8 1150.6 376.9C1152.8 380.4 1155.8 388.2 1155.8 388.2C1155.8 388.2 1161.0 405.5 1161.0 405.5C1161.0 405.5 1164.5 421.0 1164.5 421.0C1164.5 421.0 1168.8 444.4 1168.8 444.4C1168.8 444.4 1174.9 426.2 1174.9 426.2C1174.9 426.2 1180.0 425.9 1180.0 425.9C1180.0 425.9 1187.0 419.3 1187.0 419.3C1187.0 419.3 1199.1 419.3 1199.1 419.3C1199.1 419.3 1204.2 431.4 1204.2 431.4C1204.2 431.4 1210.3 458.2 1210.3 458.2" stroke="#1d8f42" stroke-width="3.6" fill="none" stroke-linejoin="round" stroke-linecap="butt"/>
<path d="M753.5 335.0C753.5 335.0 755.0 305.6 755.0 305.6C755.0 305.6 757.7 269.2 757.7 269.2C757.7 269.2 761.4 241.9 761.4 241.9C761.4 241.9 766.8 214.6 766.8 214.6C766.8 214.6 771.4 211.5 772.3 209.1C774.5 203.3 774.2 196.9 775.9 190.9C777.0 187.1 778.4 183.3 780.5 180.0C782.7 176.6 785.2 173.2 788.6 170.9C791.8 168.8 795.7 167.7 799.5 167.3C802.1 167.1 804.6 168.5 807.1 169.2C810.2 170.0 813.2 171.0 816.2 171.9C819.2 172.8 822.6 172.9 825.3 174.6C828.2 176.4 830.0 179.6 832.5 181.9C835.4 184.5 839.0 186.3 841.6 189.2C845.1 193.1 847.7 197.6 850.7 201.9C853.2 205.5 858.0 212.8 858.0 212.8C858.0 212.8 870.7 231.0 870.7 231.0C870.7 231.0 877.6 241.1 881.7 245.6C885.5 249.7 890.8 252.3 894.4 256.5C898.7 261.5 901.4 267.6 905.3 272.9C907.1 275.4 909.3 277.7 911.5 280.0C914.0 282.6 919.1 287.6 919.1 287.6C919.1 287.6 928.7 310.6 928.7 310.6C928.7 310.6 940.1 329.7 940.1 329.7C940.1 329.7 947.8 348.8 947.8 348.8C947.8 348.8 952.6 379.4 952.6 379.4C952.6 379.4 955.4 394.7 955.4 394.7C955.4 394.7 960.2 413.8 960.2 413.8C960.2 413.8 970.7 425.3 970.7 425.3C970.7 425.3 978.4 433.9 978.4 433.9C978.4 433.9 984.1 433.9 984.1 433.9C984.1 433.9 989.8 427.2 989.8 427.2C989.8 427.2 996.5 433.9 996.5 433.9C996.5 433.9 1002.3 427.2 1002.3 427.2C1002.3 427.2 1014.7 427.2 1014.7 427.2C1014.7 427.2 1020.4 444.4 1020.4 444.4C1020.4 444.4 1026.2 444.4 1026.2 444.4C1026.2 444.4 1031.9 485.2 1031.9 485.2C1031.9 485.2 1037.3 426.2 1037.3 426.2C1037.3 426.2 1043.4 426.2 1043.4 426.2C1043.4 426.2 1049.5 419.3 1049.5 419.3C1049.5 419.3 1055.6 425.3 1055.6 425.3C1055.6 425.3 1061.6 419.3 1061.6 419.3C1061.6 419.3 1067.7 443.5 1067.7 443.5C1067.7 443.5 1072.8 444.4 1072.8 444.4C1072.8 444.4 1078.9 456.5 1078.9 456.5C1078.9 456.5 1085.3 443.5 1085.3 443.5C1085.3 443.5 1091.9 460.0 1091.9 460.0C1091.9 460.0 1150.8 460.0 1150.8 460.0C1150.8 460.0 1157.0 485.2 1157.0 485.2" stroke="#1171b8" stroke-width="3.6" fill="none" stroke-linejoin="round" stroke-linecap="butt"/>
<path d="M1187.5 485.2L1210.6 485.2" stroke="#1171b8" stroke-width="3.6" fill="none" stroke-linejoin="round" stroke-linecap="butt"/>
<path d="M753.4 359.2C753.4 359.2 755.0 342.0 755.0 342.0C755.0 342.0 757.7 305.6 757.7 305.6C757.7 305.6 760.5 269.2 760.5 269.2C760.5 269.2 765.0 236.4 765.0 236.4C765.0 236.4 772.3 214.6 772.3 214.6C772.3 214.6 778.1 202.3 781.4 196.4C784.8 190.2 788.0 183.8 792.3 178.2C795.4 174.1 799.1 170.2 803.4 167.3C806.6 165.2 810.5 163.7 814.3 163.7C817.6 163.7 820.5 165.7 823.4 167.3C826.7 169.1 829.3 171.9 832.5 173.7C837.8 176.7 843.6 178.9 848.9 181.9C852.7 184.1 856.5 186.4 859.8 189.2C865.0 193.7 869.5 198.9 874.4 203.7C879.2 208.3 883.7 213.4 889.0 217.4C893.4 220.7 898.6 223.0 903.5 225.6C908.3 228.1 913.7 229.6 918.1 232.8C922.3 235.8 925.5 240.0 929.0 243.8C932.2 247.3 934.9 251.2 938.1 254.7C940.9 257.9 944.1 260.7 947.0 263.8C950.8 267.9 954.7 272.1 958.2 276.5C961.5 280.6 967.3 289.2 967.3 289.2C967.3 289.2 977.4 310.6 977.4 310.6C977.4 310.6 981.6 322.0 984.0 327.6C986.0 332.3 987.4 337.4 990.4 341.6C993.1 345.3 997.5 347.5 1000.6 350.9C1003.6 354.2 1005.3 358.6 1008.6 361.6C1010.0 362.9 1013.2 361.3 1014.2 363.0C1017.5 368.6 1020.3 381.6 1020.3 381.6C1020.3 381.6 1030.0 402.3 1030.0 402.3C1030.0 402.3 1037.6 414.8 1037.6 414.8C1037.6 414.8 1040.5 430.0 1040.5 430.0C1040.5 430.0 1042.4 457.8 1042.4 457.8C1042.4 457.8 1049.1 485.2 1049.1 485.2C1049.1 485.2 1072.8 485.2 1072.8 485.2C1072.8 485.2 1079.8 458.2 1079.8 458.2C1079.8 458.2 1085.8 485.2 1085.8 485.2C1085.8 485.2 1103.5 485.2 1103.5 485.2" stroke="#6abf56" stroke-width="3.6" fill="none" stroke-linejoin="round" stroke-linecap="butt"/>
<path d="M1122.1 485.2L1174.5 485.2" stroke="#6abf56" stroke-width="3.6" fill="none" stroke-linejoin="round" stroke-linecap="butt"/>
<path d="M1210.6 485.2L1223.0 485.2" stroke="#6abf56" stroke-width="3.6" fill="none" stroke-linejoin="round" stroke-linecap="butt"/>
<path d="M753.2 342.0C753.2 342.0 755.0 305.6 755.0 305.6C755.0 305.6 757.7 269.2 757.7 269.2C757.7 269.2 761.4 241.9 761.4 241.9C761.4 241.9 765.2 223.7 765.2 223.7C765.2 223.7 770.7 198.3 770.7 198.3C770.7 198.3 776.1 176.4 776.1 176.4C776.1 176.4 783.4 154.6 783.4 154.6C783.4 154.6 788.8 143.2 792.5 138.2C795.5 134.1 799.0 130.0 803.4 127.3C807.8 124.6 812.9 122.5 818.0 122.2C822.9 121.9 827.9 123.7 832.5 125.5C837.1 127.3 841.3 129.9 845.3 132.8C849.8 136.0 854.1 139.8 858.0 143.7C862.5 148.2 866.2 153.6 870.7 158.2C874.7 162.4 878.9 166.5 883.5 170.1C887.5 173.2 892.3 175.2 896.2 178.3C899.6 181.0 902.6 184.1 905.3 187.4C908.6 191.4 911.2 196.0 914.4 200.1C917.3 203.8 920.2 207.7 923.5 211.0C926.8 214.3 930.6 217.3 934.4 220.1C936.1 221.3 938.1 221.9 940.0 222.8C943.6 224.6 947.6 225.8 950.9 228.2C954.4 230.7 956.4 234.9 960.0 237.3C963.9 239.9 968.8 240.4 972.8 242.8C976.8 245.3 979.9 249.1 983.7 251.9C986.0 253.6 988.9 254.4 991.0 256.4C995.1 260.3 997.7 265.5 1001.9 269.2C1006.2 272.9 1011.5 275.3 1016.4 278.3C1019.4 280.1 1022.7 281.5 1025.5 283.7C1028.2 285.8 1031.1 288.0 1032.8 291.0C1035.4 295.5 1035.8 301.0 1038.3 305.6C1039.5 307.8 1042.2 308.9 1043.7 311.0C1046.3 314.6 1048.0 318.8 1050.4 322.5C1051.9 324.8 1055.6 329.0 1055.6 329.0C1055.6 329.0 1062.2 325.0 1065.9 325.1C1069.2 325.2 1071.4 329.2 1074.6 329.6C1078.2 330.0 1081.9 326.2 1085.3 327.5C1090.2 329.4 1092.2 335.7 1096.8 338.1C1098.9 339.2 1101.7 336.7 1104.0 337.3C1107.8 338.2 1111.1 340.6 1114.5 342.5C1116.9 343.8 1121.5 347.0 1121.5 347.0C1121.5 347.0 1124.1 341.2 1126.8 340.4C1130.1 339.4 1133.4 342.2 1136.8 342.4C1139.7 342.6 1142.8 342.5 1145.5 341.5C1147.6 340.7 1148.4 337.2 1150.6 337.2C1153.8 337.2 1156.2 340.5 1159.3 341.5C1161.0 342.0 1162.9 340.7 1164.5 341.5C1166.7 342.6 1167.6 345.5 1169.7 346.7C1172.3 348.2 1175.4 348.4 1178.3 349.3C1181.2 350.2 1184.5 350.3 1187.0 351.9C1189.6 353.6 1193.0 358.8 1193.0 358.8C1193.0 358.8 1196.8 355.3 1199.1 355.3C1201.4 355.3 1205.1 358.8 1205.1 358.8C1205.1 358.8 1208.3 352.9 1211.2 351.9C1213.5 351.1 1215.6 354.3 1218.1 354.5C1219.9 354.6 1223.3 352.7 1223.3 352.7" stroke="#80bfe9" stroke-width="6.2" fill="none" stroke-linejoin="round" stroke-linecap="butt"/>
<path d="M209.1 921.9C209.1 921.9 211.0 900.0 211.0 900.0C211.0 900.0 213.7 872.8 213.7 872.8C213.7 872.8 215.0 858.9 216.0 852.0C216.8 846.8 218.1 841.6 219.1 836.4C220.3 830.3 222.7 818.0 222.7 818.0C222.7 818.0 226.3 796.0 226.3 796.0C226.3 796.0 231.8 780.1 231.8 780.1C231.8 780.1 240.9 756.5 240.9 756.5C240.9 756.5 253.6 732.8 253.6 732.8C253.6 732.8 258.0 721.7 260.9 716.5C264.1 710.8 267.8 705.3 271.8 700.1C275.1 695.8 278.8 691.9 282.7 688.2C286.1 684.9 289.6 681.5 293.7 679.1C298.2 676.6 303.3 675.4 308.2 673.7C311.2 672.6 314.2 671.5 317.3 670.6C320.3 669.7 323.3 668.3 326.4 668.2C329.5 668.1 332.5 669.2 335.5 670.0C337.4 670.5 339.1 671.4 341.0 671.9C344.0 672.6 347.1 672.6 350.0 673.5C355.0 675.1 359.7 677.4 364.6 679.3C369.4 681.1 374.3 682.7 379.1 684.6C385.2 687.0 391.1 689.7 397.3 691.9C402.1 693.6 407.1 694.6 411.9 696.4C416.8 698.3 421.7 700.3 426.4 702.8C431.5 705.5 436.1 708.9 441.0 711.9C444.6 714.1 448.5 715.8 451.9 718.2C457.0 721.8 461.4 726.5 466.5 730.1C470.5 732.9 475.1 734.7 479.2 737.4C484.3 740.8 489.0 744.6 493.8 748.3C495.9 749.9 497.9 751.5 500.0 753.1C502.8 755.2 505.5 757.6 508.5 759.4C512.3 761.7 516.6 763.2 520.4 765.5C523.5 767.4 526.0 770.2 529.1 772.0C531.8 773.6 534.9 774.5 537.8 775.7C541.2 777.1 544.9 778.0 548.0 780.0C550.8 781.7 552.7 784.6 555.3 786.6C558.1 788.7 561.4 790.0 564.0 792.4C567.3 795.4 569.5 799.6 572.8 802.6C575.4 805.0 578.5 806.6 581.5 808.4C584.3 810.0 587.9 810.5 590.2 812.8C593.9 816.5 595.7 821.8 599.0 825.9C600.1 827.2 602.5 827.3 603.3 828.8C605.5 832.8 605.9 837.7 607.7 841.9C608.8 844.5 611.0 846.6 612.1 849.2C614.0 853.9 614.1 859.2 616.4 863.7C618.1 867.1 620.6 870.2 623.7 872.4C626.4 874.3 633.2 875.4 633.2 875.4" stroke="#1d8f42" stroke-width="3.6" fill="none" stroke-linejoin="round" stroke-linecap="butt"/>
<path d="M209.1 927.4C209.1 927.4 211.0 905.0 211.0 905.0C211.0 905.0 212.0 893.6 213.0 888.0C214.1 881.7 216.0 875.5 217.3 869.2C218.8 862.2 220.0 855.0 221.5 848.0C223.0 841.1 224.8 834.2 226.4 827.3C227.6 822.2 228.6 817.1 230.0 812.0C231.1 808.0 232.5 804.0 233.7 800.0C234.3 798.2 235.4 794.7 235.4 794.7C235.4 794.7 242.7 772.9 242.7 772.9C242.7 772.9 251.8 751.0 251.8 751.0C251.8 751.0 257.7 742.4 260.9 738.3C264.9 733.3 269.1 728.4 273.6 723.7C276.4 720.7 279.7 718.2 282.7 715.5C285.7 712.8 288.5 709.7 291.8 707.4C294.6 705.5 297.8 704.2 300.9 702.8C304.5 701.2 308.2 699.9 311.9 698.6C315.5 697.3 319.1 695.9 322.8 695.0C326.4 694.1 330.0 693.6 333.7 693.3C337.3 693.0 341.0 693.5 344.6 693.3C347.0 693.2 349.4 692.4 351.9 692.4C356.2 692.5 360.4 693.2 364.6 693.7C369.4 694.3 374.4 694.2 379.1 695.5C383.0 696.6 386.5 699.0 390.0 701.0C394.4 703.5 398.3 706.7 402.8 709.1C406.3 711.0 410.1 712.0 413.7 713.7C418.0 715.7 422.0 718.4 426.4 720.1C429.9 721.5 433.8 721.8 437.4 722.8C441.7 723.9 446.0 724.9 450.1 726.4C454.4 728.0 458.7 729.7 462.8 731.9C467.9 734.6 472.8 737.6 477.4 741.0C482.6 744.9 487.0 749.7 492.0 753.7C494.5 755.7 497.2 757.4 500.0 759.0C502.8 760.6 505.9 761.7 508.7 763.3C511.7 765.0 514.7 767.0 517.5 769.0C521.5 771.8 525.1 775.1 529.1 777.8C530.9 779.0 533.2 779.5 534.9 780.8C537.1 782.5 538.7 784.9 540.8 786.6C544.0 789.2 547.8 791.1 550.9 793.8C554.6 796.9 557.5 800.8 561.1 804.0C562.9 805.6 564.9 807.0 566.9 808.4C570.3 810.9 573.9 813.0 577.1 815.7C579.7 817.9 582.4 820.2 584.4 823.0C586.3 825.6 588.8 831.7 588.8 831.7C588.8 831.7 591.7 830.2 591.7 830.2C591.7 830.2 594.0 837.4 596.1 840.4C597.5 842.4 600.4 842.9 601.9 844.8C604.3 847.9 607.7 855.0 607.7 855.0C607.7 855.0 611.4 852.8 613.5 852.8C617.0 852.8 620.2 854.6 623.7 855.0C626.1 855.3 628.9 853.7 631.0 855.0C632.8 856.1 633.2 860.8 633.2 860.8" stroke="#1171b8" stroke-width="3.6" fill="none" stroke-linejoin="round" stroke-linecap="butt"/>
<path d="M210.0 976.5C210.0 976.5 211.5 940.0 211.5 940.0C211.5 940.0 212.7 909.2 212.7 909.2C212.7 909.2 215.0 885.0 215.0 885.0C215.0 885.0 217.3 869.2 217.3 869.2C217.3 869.2 221.0 845.0 221.0 845.0C221.0 845.0 223.3 833.2 224.6 827.3C225.8 822.2 227.1 817.1 228.5 812.0C229.6 808.0 231.9 800.0 231.9 800.0C231.9 800.0 239.1 774.7 239.1 774.7C239.1 774.7 248.2 752.8 248.2 752.8C248.2 752.8 254.4 744.4 257.3 740.1C261.0 734.7 264.5 729.1 268.2 723.7C271.1 719.4 274.1 715.1 277.3 711.0C280.2 707.3 283.2 703.6 286.4 700.1C289.9 696.3 293.5 692.6 297.3 689.2C301.3 685.6 305.4 682.0 310.0 679.1C312.8 677.4 315.9 676.3 319.1 675.5C322.7 674.5 326.4 673.9 330.1 673.7C333.7 673.5 337.4 674.0 341.0 674.2C344.0 674.3 347.1 674.1 350.1 674.6C353.5 675.2 356.8 676.3 360.0 677.5C363.4 678.8 366.7 680.5 370.0 682.0C373.1 683.4 376.0 685.0 379.1 686.4C384.5 688.9 390.0 691.5 395.5 693.9C400.9 696.3 406.6 698.2 411.9 701.0C415.8 703.0 419.0 706.1 422.8 708.2C426.9 710.4 431.4 711.6 435.5 713.7C439.9 715.9 443.8 719.0 448.3 721.0C451.2 722.3 454.6 722.2 457.4 723.7C461.4 725.9 464.3 729.7 468.3 731.9C471.7 733.7 475.8 733.7 479.2 735.5C483.8 738.0 487.5 741.9 492.0 744.6C494.5 746.1 497.4 746.7 500.0 748.0C503.0 749.5 506.2 750.9 508.7 753.1C512.6 756.5 515.0 761.3 518.9 764.7C521.9 767.3 525.5 769.0 529.1 770.6C532.3 772.0 536.1 772.0 539.3 773.5C542.5 775.0 545.2 777.2 548.0 779.3C551.5 782.0 554.7 785.2 558.2 788.0C561.0 790.3 563.9 792.6 566.9 794.6C569.2 796.2 571.5 798.0 574.2 798.9C577.0 799.8 580.2 798.8 583.0 799.7C585.7 800.5 587.8 802.5 590.2 804.0C592.2 805.2 594.1 806.5 596.1 807.7C598.0 808.9 600.2 809.7 601.9 811.3C604.2 813.4 605.9 816.0 607.7 818.6C610.3 822.4 612.4 826.4 615.0 830.2C616.8 832.8 618.7 835.2 620.8 837.5C622.6 839.5 624.9 841.2 626.6 843.3C628.8 846.1 632.4 852.1 632.4 852.1" stroke="#6abf56" stroke-width="3.6" fill="none" stroke-linejoin="round" stroke-linecap="butt"/>
<path d="M210.0 894.6C210.0 894.6 213.7 854.6 213.7 854.6C213.7 854.6 216.5 830.0 216.5 830.0C216.5 830.0 218.3 818.0 219.5 812.0C220.3 808.0 221.5 804.0 222.5 800.0C223.7 795.2 224.6 790.3 226.3 785.6C227.7 781.8 230.2 778.4 231.8 774.7C233.9 769.9 235.5 765.0 237.3 760.1C239.7 753.4 241.8 746.6 244.5 740.1C246.6 735.1 249.4 730.4 251.8 725.5C254.8 719.5 257.7 713.3 260.9 707.4C263.8 702.1 266.9 697.0 270.0 691.9C272.4 687.9 274.7 683.9 277.3 680.1C279.5 676.9 281.6 673.4 284.6 671.0C287.8 668.5 291.7 666.9 295.5 665.5C299.6 664.0 303.8 662.6 308.2 662.2C313.0 661.7 318.0 662.2 322.8 662.8C325.9 663.2 328.9 664.1 331.9 665.1C335.0 666.2 337.9 667.8 341.0 669.1C344.0 670.4 347.1 671.5 350.1 672.8C355.0 674.9 359.8 676.9 364.6 679.1C369.5 681.4 374.2 684.1 379.1 686.4C384.5 689.0 390.2 690.9 395.5 693.7C399.9 696.1 404.2 698.8 408.2 701.9C412.1 704.9 415.3 708.8 419.2 711.9C422.6 714.6 426.5 716.8 430.1 719.2C433.7 721.6 437.4 724.0 441.0 726.4C444.6 728.8 448.0 731.7 451.9 733.7C455.9 735.7 460.6 736.3 464.6 738.3C469.1 740.6 473.3 743.5 477.4 746.5C481.2 749.3 484.7 752.4 488.3 755.5C492.3 758.9 495.9 762.8 500.0 766.0C502.7 768.1 505.6 769.9 508.7 771.3C512.4 773.0 517.3 772.3 520.4 775.0C524.7 778.8 525.8 785.3 529.5 789.8C531.7 792.5 534.5 795.1 537.8 796.0C539.8 796.6 541.6 794.2 543.7 793.8C547.1 793.2 550.7 791.9 553.9 793.1C557.6 794.5 559.8 798.4 562.6 801.1C565.6 804.0 568.6 806.8 571.3 809.9C574.4 813.6 577.5 817.3 580.0 821.5C582.4 825.6 584.2 830.1 585.9 834.6C587.7 839.4 588.5 844.4 590.2 849.2C591.9 854.1 593.8 859.0 596.1 863.7C597.7 866.8 599.6 869.8 601.9 872.4C603.5 874.2 607.7 876.8 607.7 876.8C607.7 876.8 612.3 871.6 615.0 869.5C617.2 867.7 619.5 865.5 622.3 865.2C624.4 865.0 626.7 866.5 628.1 868.1C629.8 870.1 629.9 873.0 631.0 875.4C631.8 877.1 633.9 880.4 633.9 880.4" stroke="#80bfe9" stroke-width="6.2" fill="none" stroke-linejoin="round" stroke-linecap="butt"/>
<path d="M752.7 926.1C752.7 926.1 754.5 900.0 754.5 900.0C754.5 900.0 756.6 876.4 756.6 876.4C756.6 876.4 758.0 850.0 758.0 850.0C758.0 850.0 758.6 837.0 759.4 830.6C760.0 825.4 761.2 820.4 762.3 815.3C763.4 810.2 766.1 800.0 766.1 800.0C766.1 800.0 770.7 777.4 770.7 777.4C770.7 777.4 779.8 748.3 779.8 748.3C779.8 748.3 788.9 722.8 788.9 722.8C788.9 722.8 799.8 706.5 799.8 706.5C799.8 706.5 812.5 686.4 812.5 686.4C812.5 686.4 819.4 680.4 823.4 678.2C826.8 676.3 830.5 674.7 834.4 674.1C839.2 673.3 844.1 673.7 848.9 674.1C853.8 674.5 858.6 675.6 863.5 676.4C867.1 677.0 870.7 677.8 874.4 678.2C880.4 678.9 886.6 679.0 892.6 679.7C896.9 680.2 901.1 681.0 905.3 681.9C910.2 682.9 915.1 684.1 919.9 685.5C924.0 686.7 927.9 688.3 932.0 689.5C936.1 690.7 940.4 691.5 944.5 692.6C950.2 694.1 956.0 695.3 961.4 697.4C967.3 699.7 972.7 703.1 978.3 705.9C983.9 708.7 989.3 712.2 995.2 714.3C999.0 715.6 1003.4 714.9 1007.3 716.0C1012.3 717.4 1017.0 719.7 1021.8 721.6C1025.8 723.2 1030.1 724.3 1033.9 726.4C1037.4 728.4 1040.2 731.5 1043.5 733.7C1047.4 736.3 1051.8 738.2 1055.6 740.9C1059.0 743.3 1061.6 746.9 1065.3 748.9C1068.2 750.5 1071.8 750.2 1074.9 751.3C1078.2 752.4 1081.3 754.2 1084.6 755.4C1089.4 757.2 1094.4 758.2 1099.1 760.2C1104.1 762.3 1108.8 765.1 1113.6 767.5C1118.4 769.9 1123.0 773.0 1128.1 774.7C1132.8 776.3 1137.8 776.2 1142.6 777.2C1145.8 777.9 1149.0 778.8 1152.2 779.6C1156.2 780.6 1160.4 781.3 1164.3 782.7C1167.7 783.9 1170.5 786.7 1174.0 787.5C1177.9 788.4 1182.0 787.6 1186.0 787.8C1191.6 788.1 1197.3 788.2 1202.9 789.2C1206.3 789.8 1209.3 791.7 1212.6 792.4C1215.8 793.1 1222.3 793.5 1222.3 793.5" stroke="#1d8f42" stroke-width="3.6" fill="none" stroke-linejoin="round" stroke-linecap="butt"/>
<path d="M753.0 850.0C753.0 850.0 755.0 820.0 755.0 820.0C755.0 820.0 757.5 790.0 757.5 790.0C757.5 790.0 758.8 764.7 758.8 764.7C758.8 764.7 763.4 741.0 763.4 741.0C763.4 741.0 768.8 717.4 768.8 717.4C768.8 717.4 776.1 690.1 776.1 690.1C776.1 690.1 780.1 678.4 783.0 673.0C784.4 670.4 786.7 668.4 788.9 666.4C792.4 663.2 795.6 659.4 799.8 657.3C803.1 655.7 807.0 655.3 810.7 655.5C813.9 655.6 817.1 656.6 819.8 658.2C823.3 660.3 826.2 663.3 828.9 666.4C832.9 671.0 835.8 676.4 839.8 681.0C843.7 685.5 848.4 689.3 852.5 693.7C856.3 697.8 860.0 702.1 863.5 706.5C866.7 710.6 870.0 714.7 872.6 719.2C876.0 725.0 878.1 731.6 881.7 737.4C884.2 741.4 888.3 744.3 890.8 748.3C894.4 754.1 896.9 760.4 899.9 766.5C902.3 771.4 904.4 776.4 907.1 781.1C909.8 785.9 913.2 790.3 916.0 795.0C918.8 799.6 920.2 805.1 923.9 808.9C927.2 812.3 932.1 813.6 936.4 815.7C939.8 817.4 943.6 818.3 947.0 820.0C948.9 821.0 950.7 822.2 952.3 823.7C955.2 826.5 958.3 829.3 960.3 832.8C963.7 838.5 968.3 851.0 968.3 851.0C968.3 851.0 979.6 880.6 979.6 880.6C979.6 880.6 984.2 904.5 984.2 904.5C984.2 904.5 991.0 909.0 991.0 909.0C991.0 909.0 996.7 917.0 996.7 917.0C996.7 917.0 1002.4 934.1 1002.4 934.1C1002.4 934.1 1009.2 920.4 1009.2 920.4C1009.2 920.4 1014.9 921.5 1014.9 921.5C1014.9 921.5 1020.6 928.4 1020.6 928.4C1020.6 928.4 1032.0 929.5 1032.0 929.5C1032.0 929.5 1038.8 946.6 1038.8 946.6C1038.8 946.6 1050.2 934.1 1050.2 934.1C1050.2 934.1 1057.0 939.7 1057.0 939.7C1057.0 939.7 1061.5 939.7 1061.5 939.7C1061.5 939.7 1068.4 945.4 1068.4 945.4C1068.4 945.4 1074.4 947.0 1074.4 947.0C1074.4 947.0 1079.8 954.7 1079.8 954.7C1079.8 954.7 1086.2 964.5 1086.2 964.5C1086.2 964.5 1093.0 951.0 1093.0 951.0C1093.0 951.0 1097.7 933.9 1097.7 933.9C1097.7 933.9 1108.2 933.9 1108.2 933.9C1108.2 933.9 1114.9 929.1 1114.9 929.1C1114.9 929.1 1120.7 940.2 1120.7 940.2C1120.7 940.2 1127.0 962.2 1127.0 962.2C1127.0 962.2 1132.2 1005.4 1132.2 1005.4C1132.2 1005.4 1137.5 1005.4 1137.5 1005.4" stroke="#1171b8" stroke-width="3.6" fill="none" stroke-linejoin="round" stroke-linecap="butt"/>
<path d="M1199.2 1005.4C1199.2 1005.4 1204.5 980.0 1204.5 980.0C1204.5 980.0 1222.3 980.0 1222.3 980.0" stroke="#1171b8" stroke-width="3.6" fill="none" stroke-linejoin="round" stroke-linecap="butt"/>
<path d="M753.0 850.0C753.0 850.0 755.0 820.0 755.0 820.0C755.0 820.0 757.5 790.0 757.5 790.0C757.5 790.0 758.8 764.7 758.8 764.7C758.8 764.7 763.4 741.0 763.4 741.0C763.4 741.0 768.8 717.4 768.8 717.4C768.8 717.4 777.9 691.9 777.9 691.9C777.9 691.9 790.7 664.6 790.7 664.6C790.7 664.6 797.5 656.7 801.6 653.7C805.4 650.9 809.6 648.2 814.3 647.3C817.9 646.6 821.9 647.5 825.3 649.1C830.0 651.3 834.0 654.9 838.0 658.2C842.5 661.9 846.7 665.9 850.7 670.1C855.2 674.7 859.2 679.8 863.5 684.6C868.3 690.1 873.2 695.5 878.0 701.0C881.7 705.2 885.4 709.5 889.0 713.7C892.7 718.0 896.1 722.4 899.9 726.5C903.4 730.3 907.5 733.5 910.8 737.4C914.7 742.0 918.0 747.2 921.7 752.0C924.4 755.4 927.3 758.7 930.0 762.0C934.4 767.4 943.2 778.2 943.2 778.2C943.2 778.2 966.0 796.4 966.0 796.4C966.0 796.4 978.4 803.6 984.2 807.8C989.0 811.2 993.2 815.4 997.8 819.2C1001.6 822.3 1005.1 825.7 1009.2 828.3C1012.8 830.6 1016.4 833.6 1020.6 834.0C1024.6 834.4 1028.1 831.1 1032.0 830.5C1035.7 829.9 1039.9 829.0 1043.3 830.5C1046.5 831.9 1047.5 836.2 1050.2 838.5C1053.2 841.0 1057.3 842.1 1060.0 844.9C1064.2 849.2 1067.0 854.7 1070.5 859.6C1074.0 864.5 1080.9 874.2 1080.9 874.2C1080.9 874.2 1089.3 895.2 1089.3 895.2C1089.3 895.2 1095.0 915.0 1095.0 915.0C1095.0 915.0 1100.0 939.0 1100.0 939.0C1100.0 939.0 1104.0 953.8 1104.0 953.8C1104.0 953.8 1109.2 978.9 1109.2 978.9" stroke="#6abf56" stroke-width="3.6" fill="none" stroke-linejoin="round" stroke-linecap="butt"/>
<path d="M752.7 855.4C752.7 855.4 754.6 828.7 754.6 828.7C754.6 828.7 755.8 814.9 756.3 808.0C756.7 802.0 757.5 790.0 757.5 790.0C757.5 790.0 758.8 764.7 758.8 764.7C758.8 764.7 763.4 741.0 763.4 741.0C763.4 741.0 768.8 717.4 768.8 717.4C768.8 717.4 776.1 690.1 776.1 690.1C776.1 690.1 780.6 676.6 783.4 670.1C785.5 665.1 787.8 660.1 790.7 655.5C793.3 651.5 796.2 647.7 799.8 644.6C803.6 641.4 807.7 638.0 812.5 636.9C816.1 636.1 820.0 637.6 823.4 639.1C827.4 640.9 830.9 643.7 834.4 646.4C839.5 650.4 844.4 654.5 848.9 659.1C852.9 663.1 856.4 667.4 859.8 671.9C863.7 677.2 867.4 682.6 870.7 688.3C874.1 694.2 879.8 706.5 879.8 706.5C879.8 706.5 889.0 726.5 889.0 726.5C889.0 726.5 898.0 748.3 898.0 748.3C898.0 748.3 903.3 760.5 906.0 766.5C907.9 770.7 909.7 775.0 912.0 779.0C914.2 783.0 916.4 787.1 919.5 790.5C921.6 792.9 924.4 794.5 927.2 796.0C930.3 797.7 933.9 798.3 937.0 800.0C941.0 802.2 948.5 807.6 948.5 807.6C948.5 807.6 966.0 821.4 966.0 821.4C966.0 821.4 973.7 824.2 977.4 826.0C981.3 828.0 984.8 830.7 988.7 832.8C992.4 834.8 996.3 836.6 1000.1 838.5C1003.1 840.0 1005.9 842.2 1009.2 843.0C1014.4 844.3 1019.8 845.0 1025.1 844.6C1029.1 844.3 1032.5 840.4 1036.5 840.8C1040.1 841.1 1042.4 845.0 1045.6 846.5C1049.6 848.4 1054.6 848.3 1058.0 851.1C1062.6 855.0 1063.7 862.1 1068.4 865.8C1070.2 867.2 1072.7 863.7 1074.9 864.2C1077.8 864.9 1079.7 868.0 1082.5 869.1C1086.0 870.5 1089.7 871.8 1093.5 871.8C1097.1 871.8 1100.4 868.7 1104.0 869.0C1106.5 869.2 1108.7 871.3 1110.3 873.2C1112.9 876.3 1113.9 880.5 1116.5 883.6C1117.5 884.8 1119.2 886.1 1120.7 885.7C1123.3 884.9 1124.3 881.0 1127.0 880.5C1130.5 879.9 1134.0 883.2 1137.5 882.6C1140.7 882.1 1142.7 878.3 1145.8 877.4C1147.8 876.8 1150.3 877.3 1152.1 878.4C1154.7 879.9 1155.9 883.1 1158.4 884.7C1161.6 886.7 1166.0 886.5 1168.9 888.9C1171.8 891.3 1172.4 895.7 1175.2 898.3C1176.8 899.8 1179.3 901.0 1181.4 900.4C1183.8 899.8 1186.7 895.2 1186.7 895.2C1186.7 895.2 1193.0 901.4 1193.0 901.4C1193.0 901.4 1196.3 896.4 1198.2 894.1C1200.1 891.8 1201.7 888.7 1204.5 887.8C1206.6 887.1 1208.6 889.9 1210.8 889.9C1214.7 889.9 1222.3 887.8 1222.3 887.8" stroke="#80bfe9" stroke-width="6.2" fill="none" stroke-linejoin="round" stroke-linecap="butt"/>
<text x="-0.75" y="23.9" class="pl">A</text>
<text x="671.8" y="23.9" class="pl">B</text>
<text x="0" y="563.3" class="pl">C</text>
<text x="671.8" y="563.1" class="pl">D</text>
<text transform="translate(166.00 44.60) scale(1.080 1)" x="0" y="0" class="it" font-size="34.50" textLength="140.74" lengthAdjust="spacing">Lifetimes</text>
<text x="333" y="48.8" class="rm" font-size="44">≥</text>
<text x="367.2" y="44.9" class="rm" font-size="34">16</text>
<text transform="translate(400.00 44.90) scale(1.080 1)" x="0" y="0" class="it" font-size="34.50" textLength="83.33" lengthAdjust="spacing">weeks</text>
<text x="317.8" y="1089.8" class="it" font-size="37.5" textLength="26.6" lengthAdjust="spacingAndGlyphs">R</text>
<text x="345" y="1095.3" class="it" font-size="26" textLength="48" lengthAdjust="spacing">max</text>
<text x="398.5" y="1089.8" class="rm" font-size="37.5">(</text>
<text x="411.6" y="1089.8" class="it" font-size="37.5">k</text>
<text x="433.0" y="1089.8" class="it" font-size="37.5" textLength="29.8" lengthAdjust="spacingAndGlyphs">m</text>
<text x="463.9" y="1089.8" class="rm" font-size="37.5">)</text>
<text x="902" y="1089.8" class="it" font-size="37.5">V</text>
<text x="922" y="1095.3" class="it" font-size="26" textLength="49" lengthAdjust="spacing">max</text>
<text x="975.9" y="1089.8" class="rm" font-size="37.5">(</text>
<text x="988.3" y="1089.8" class="it" font-size="37.5" textLength="33.6" lengthAdjust="spacingAndGlyphs">m</text>
<path d="M1035.6 1063L1023.2 1101" stroke="#000" stroke-width="1.7" fill="none"/>
<text x="1041.0" y="1089.8" class="it" font-size="37.5">s</text>
<text x="1055.9" y="1089.8" class="rm" font-size="37.5">)</text>
<g transform="translate(24.40 354.40) rotate(-90)"><text x="0" y="0" class="it" font-size="34" textLength="189.2" lengthAdjust="spacing">Anticyclones</text></g>
<g transform="translate(24.40 878.20) rotate(-90)"><text x="0" y="0" class="it" font-size="34" textLength="134" lengthAdjust="spacing">Cyclones</text></g>
<g transform="translate(86.50 307.70) rotate(-90)"><text x="0" y="0" class="it" font-size="36" textLength="27" lengthAdjust="spacingAndGlyphs">N</text><text x="27.5" y="5" class="it" font-size="25" textLength="41.2" lengthAdjust="spacing">traj</text></g>
<g transform="translate(86.50 829.00) rotate(-90)"><text x="0" y="0" class="it" font-size="36" textLength="27" lengthAdjust="spacingAndGlyphs">N</text><text x="27.5" y="5" class="it" font-size="25" textLength="41.2" lengthAdjust="spacing">traj</text></g>
<rect x="1008.0" y="74.0" width="188.3" height="171.1" fill="#fff" stroke="#161616" stroke-width="1.7"/>
<path d="M1014.2 97.5L1061.5 97.5" stroke="#1d8f42" stroke-width="3.6"/>
<text transform="translate(1066.00 105.40) scale(1.120 1)" x="0" y="0" class="it" font-size="34.50" textLength="107.14" lengthAdjust="spacing">sBCUS</text>
<path d="M1014.2 138.8L1061.5 138.8" stroke="#1171b8" stroke-width="3.6"/>
<text transform="translate(1066.00 146.60) scale(1.120 1)" x="0" y="0" class="it" font-size="34.50" textLength="111.16" lengthAdjust="spacing">nBCUS</text>
<path d="M1014.2 180.8L1061.5 180.8" stroke="#6abf56" stroke-width="3.6"/>
<text transform="translate(1066.00 187.80) scale(1.120 1)" x="0" y="0" class="it" font-size="34.50" textLength="106.43" lengthAdjust="spacing">sCCUS</text>
<path d="M1014.2 222.1L1061.5 222.1" stroke="#80bfe9" stroke-width="6.2"/>
<text transform="translate(1066.00 229.00) scale(1.120 1)" x="0" y="0" class="it" font-size="34.50" textLength="110.71" lengthAdjust="spacing">nCCUS</text>
</svg></body></html>
